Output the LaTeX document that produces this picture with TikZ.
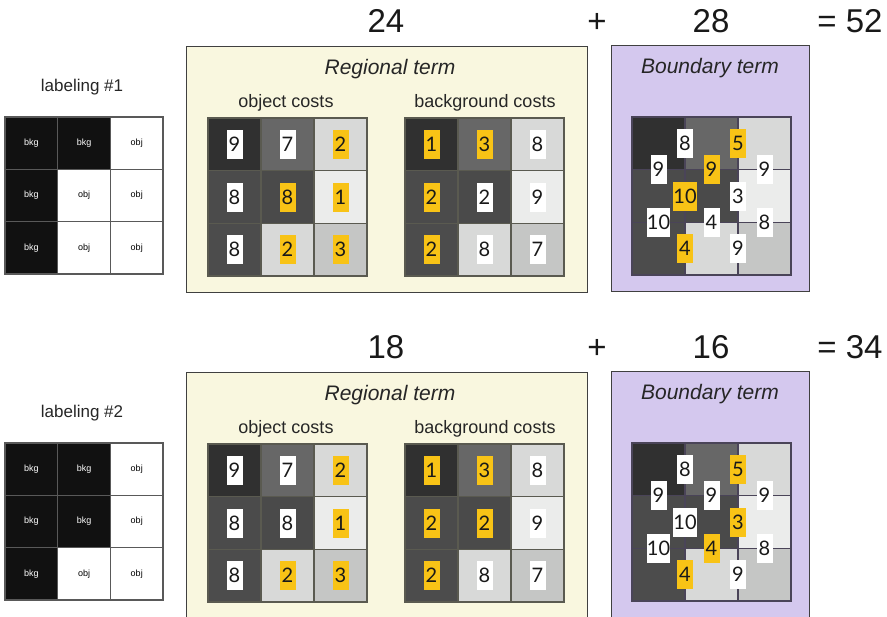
\documentclass[tikz,border=0pt]{standalone}
\usepackage{fontspec}
\setmainfont{Liberation Sans}
\newfontfamily\numfont{Lato}
\usetikzlibrary{calc}
\definecolor{c11}{HTML}{303030}
\definecolor{c12}{HTML}{676767}
\definecolor{c13}{HTML}{D8D9D8}
\definecolor{c21}{HTML}{4B4B4B}
\definecolor{c22}{HTML}{4A4A4A}
\definecolor{c23}{HTML}{EBECEB}
\definecolor{c31}{HTML}{4C4C4C}
\definecolor{c32}{HTML}{D8D9D8}
\definecolor{c33}{HTML}{C5C6C5}
\definecolor{regfill}{HTML}{F9F7DF}
\definecolor{bndfill}{HTML}{D4C8EE}
\definecolor{ybox}{HTML}{F8C316}
\definecolor{gridc}{HTML}{5A5A50}
\definecolor{bgrid}{HTML}{4A4458}
\definecolor{labblack}{HTML}{111111}
\tikzset{
  cell/.style={draw=gridc, line width=1.3, minimum width=53, minimum height=52.7, inner sep=0},
  bcell/.style={draw=bgrid, line width=1.3, minimum width=53, minimum height=52.7, inner sep=0},
  lcell/.style={draw=gray!70!black, line width=1.3, minimum width=52.7, minimum height=52.3, inner sep=0, font=\fontsize{9}{10}\selectfont},
  bk/.style={lcell, fill=labblack, text=white},
  ob/.style={lcell, fill=white, text=black},
  W/.style={fill=white, minimum width=16, minimum height=29, inner xsep=0, inner ysep=0, font=\numfont\fontsize{20}{20}\selectfont, text=black!90},
  Y/.style={W, fill=ybox},
  total/.style={font=\fontsize{33}{33}\selectfont, text=black!90, anchor=base, inner sep=0},
  title/.style={font=\fontsize{21}{24}\selectfont\itshape, text=black!85},
  sub/.style={font=\fontsize{18}{21}\selectfont, text=black!85},
  panelbox/.style={draw=black!75, line width=1.4},
}
\begin{document}
\begin{tikzpicture}[x=1pt,y=-1pt]
\clip (0,0) rectangle (887,617);
\fill[white] (0,0) rectangle (887,617);
\foreach \p/\oy/\A/\B/\T/\lab in {1/0/24/28/52/1, 2/326/18/16/34/2} {
\begin{scope}[shift={(0,\oy)}]
  % totals
  \node[total] (p\p-a) at (386,33) {\A};
  \node[total] (p\p-plus) at (597,33) {+};
  \node[total] (p\p-b) at (711,33) {\B};
  \node[total] (p\p-t) at (850,33) {= \T};
  % boxes
  \node[panelbox, fill=regfill, minimum width=401, minimum height=246, anchor=north west] (p\p-reg) at (186,46) {};
  \node[panelbox, fill=bndfill, minimum width=198, minimum height=246, anchor=north west] (p\p-bnd) at (611,45) {};
  \node[title] (p\p-regt) at (390,69) {Regional term};
  \node[title] (p\p-bndt) at (710,68) {Boundary term};
  \node[sub] (p\p-objt) at (286,103) {object costs};
  \node[sub] (p\p-bkgt) at (485,103) {background costs};
  \node[font=\fontsize{17}{20}\selectfont, text=black!85] (p\p-labt) at (82,87) {labeling \#\lab};
  % cost grids
  \foreach \r in {1,2,3} \foreach \c in {1,2,3} {
    \node[cell, fill=c\r\c] (p\p-o\r\c) at ({208+53*(\c-0.5)},{118+52.7*(\r-0.5)}) {};
    \node[cell, fill=c\r\c] (p\p-k\r\c) at ({405+53*(\c-0.5)},{118+52.7*(\r-0.5)}) {};
    \node[bcell, fill=c\r\c] (p\p-b\r\c) at ({632+53*(\c-0.5)},{117+52.7*(\r-0.5)}) {};
  }
\end{scope}
}
% ---------- panel 1 ----------
\foreach \r/\c/\s/\t in {1/1/bk/bkg,1/2/bk/bkg,1/3/ob/obj,2/1/bk/bkg,2/2/ob/obj,2/3/ob/obj,3/1/bk/bkg,3/2/ob/obj,3/3/ob/obj}
  \node[\s] (p1-l\r\c) at ({5+52.7*(\c-0.5)},{117+52.3*(\r-0.5)}) {\t};
\foreach \r/\c/\v/\s in {1/1/9/W,1/2/7/W,1/3/2/Y,2/1/8/W,2/2/8/Y,2/3/1/Y,3/1/8/W,3/2/2/Y,3/3/3/Y}
  \node[\s] (p1-on\r\c) at (p1-o\r\c) {\v};
\foreach \r/\c/\v/\s in {1/1/1/Y,1/2/3/Y,1/3/8/W,2/1/2/Y,2/2/2/W,2/3/9/W,3/1/2/Y,3/2/8/W,3/3/7/W}
  \node[\s] (p1-kn\r\c) at (p1-k\r\c) {\v};
\foreach \r/\c/\d/\v/\s in {1/1/2/8/W,1/2/3/5/Y,2/1/2/10/Y,2/2/3/3/W,3/1/2/4/Y,3/2/3/9/W}
  \node[\s] (p1-v\r\c) at ($(p1-b\r\c)!0.5!(p1-b\r\d)$) {\v};
\foreach \r/\d/\c/\v/\s in {1/2/1/9/W,1/2/2/9/Y,1/2/3/9/W,2/3/1/10/W,2/3/2/4/W,2/3/3/8/W}
  \node[\s] (p1-h\r\c) at ($(p1-b\r\c)!0.5!(p1-b\d\c)$) {\v};
% ---------- panel 2 ----------
\foreach \r/\c/\s/\t in {1/1/bk/bkg,1/2/bk/bkg,1/3/ob/obj,2/1/bk/bkg,2/2/bk/bkg,2/3/ob/obj,3/1/bk/bkg,3/2/ob/obj,3/3/ob/obj}
  \node[\s] (p2-l\r\c) at ({5+52.7*(\c-0.5)},{443+52.3*(\r-0.5)}) {\t};
\foreach \r/\c/\v/\s in {1/1/9/W,1/2/7/W,1/3/2/Y,2/1/8/W,2/2/8/W,2/3/1/Y,3/1/8/W,3/2/2/Y,3/3/3/Y}
  \node[\s] (p2-on\r\c) at (p2-o\r\c) {\v};
\foreach \r/\c/\v/\s in {1/1/1/Y,1/2/3/Y,1/3/8/W,2/1/2/Y,2/2/2/Y,2/3/9/W,3/1/2/Y,3/2/8/W,3/3/7/W}
  \node[\s] (p2-kn\r\c) at (p2-k\r\c) {\v};
\foreach \r/\c/\d/\v/\s in {1/1/2/8/W,1/2/3/5/Y,2/1/2/10/W,2/2/3/3/Y,3/1/2/4/Y,3/2/3/9/W}
  \node[\s] (p2-v\r\c) at ($(p2-b\r\c)!0.5!(p2-b\r\d)$) {\v};
\foreach \r/\d/\c/\v/\s in {1/2/1/9/W,1/2/2/9/W,1/2/3/9/W,2/3/1/10/W,2/3/2/4/Y,2/3/3/8/W}
  \node[\s] (p2-h\r\c) at ($(p2-b\r\c)!0.5!(p2-b\d\c)$) {\v};
\end{tikzpicture}
\end{document}
